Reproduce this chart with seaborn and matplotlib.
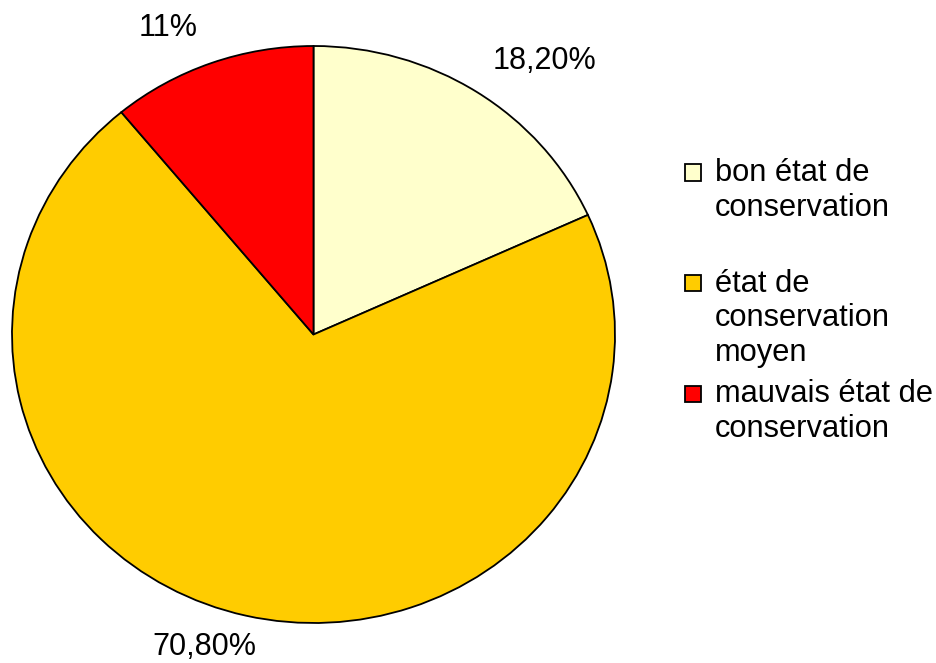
import matplotlib
matplotlib.use("Agg")
import matplotlib.pyplot as plt
from matplotlib.patches import Rectangle
import seaborn as sns

# Data
categories = ["bon état de\nconservation",
              "état de\nconservation\nmoyen",
              "mauvais état de\nconservation"]
shares = [18.2, 70.8, 11.0]
value_labels = ["18,20%", "70,80%", "11%"]
colors = ["#FFFFCC", "#FFCC00", "#FF0000"]

sns.set_theme(style="white")
plt.rcParams["font.family"] = ["Liberation Sans", "DejaVu Sans"]

W, H = 937, 663
fig = plt.figure(figsize=(W / 100, H / 100), dpi=100)
ax = fig.add_axes([0, 0, 1, 1])

# pie centre and radii in pixels (slightly flattened ellipse)
cx, cy, rx, ry = 313.5, 334.5, 301.5, 288.5


def px_to_data(px, py):
    return (px - cx) / rx, (cy - py) / ry


wedges, _ = ax.pie(shares, colors=colors, startangle=90, counterclock=False,
                   radius=1.0,
                   wedgeprops=dict(edgecolor="black", linewidth=1.3))
ax.set_aspect("auto")
x0, y0 = px_to_data(0, H)
x1, y1 = px_to_data(W, 0)
ax.set_xlim(x0, x1)
ax.set_ylim(y0, y1)
ax.axis("off")

# value labels around the pie
label_px = [(544.5, 61), (204.5, 647), (168, 28)]
for txt, (px, py) in zip(value_labels, label_px):
    dx, dy = px_to_data(px, py)
    ax.text(dx, dy, txt, ha="center", va="center", fontsize=22, color="black")

# legend: square swatch beside the first line of each entry
first_marker_y = 172.5
entry_step = 110.5
line_step = 35
for i, (cat, col) in enumerate(zip(categories, colors)):
    my = first_marker_y + i * entry_step
    fig.patches.append(Rectangle(((685) / W, (H - my - 8) / H), 16 / W, 16 / H,
                                 transform=fig.transFigure, facecolor=col,
                                 edgecolor="black", linewidth=1.3))
    for j, line in enumerate(cat.split("\n")):
        base = my + 8.5 + j * line_step
        fig.text(715 / W, (H - base) / H, line, ha="left", va="baseline",
                 fontsize=22.2, color="black")

fig.savefig("out.png", dpi=100, facecolor="white")
